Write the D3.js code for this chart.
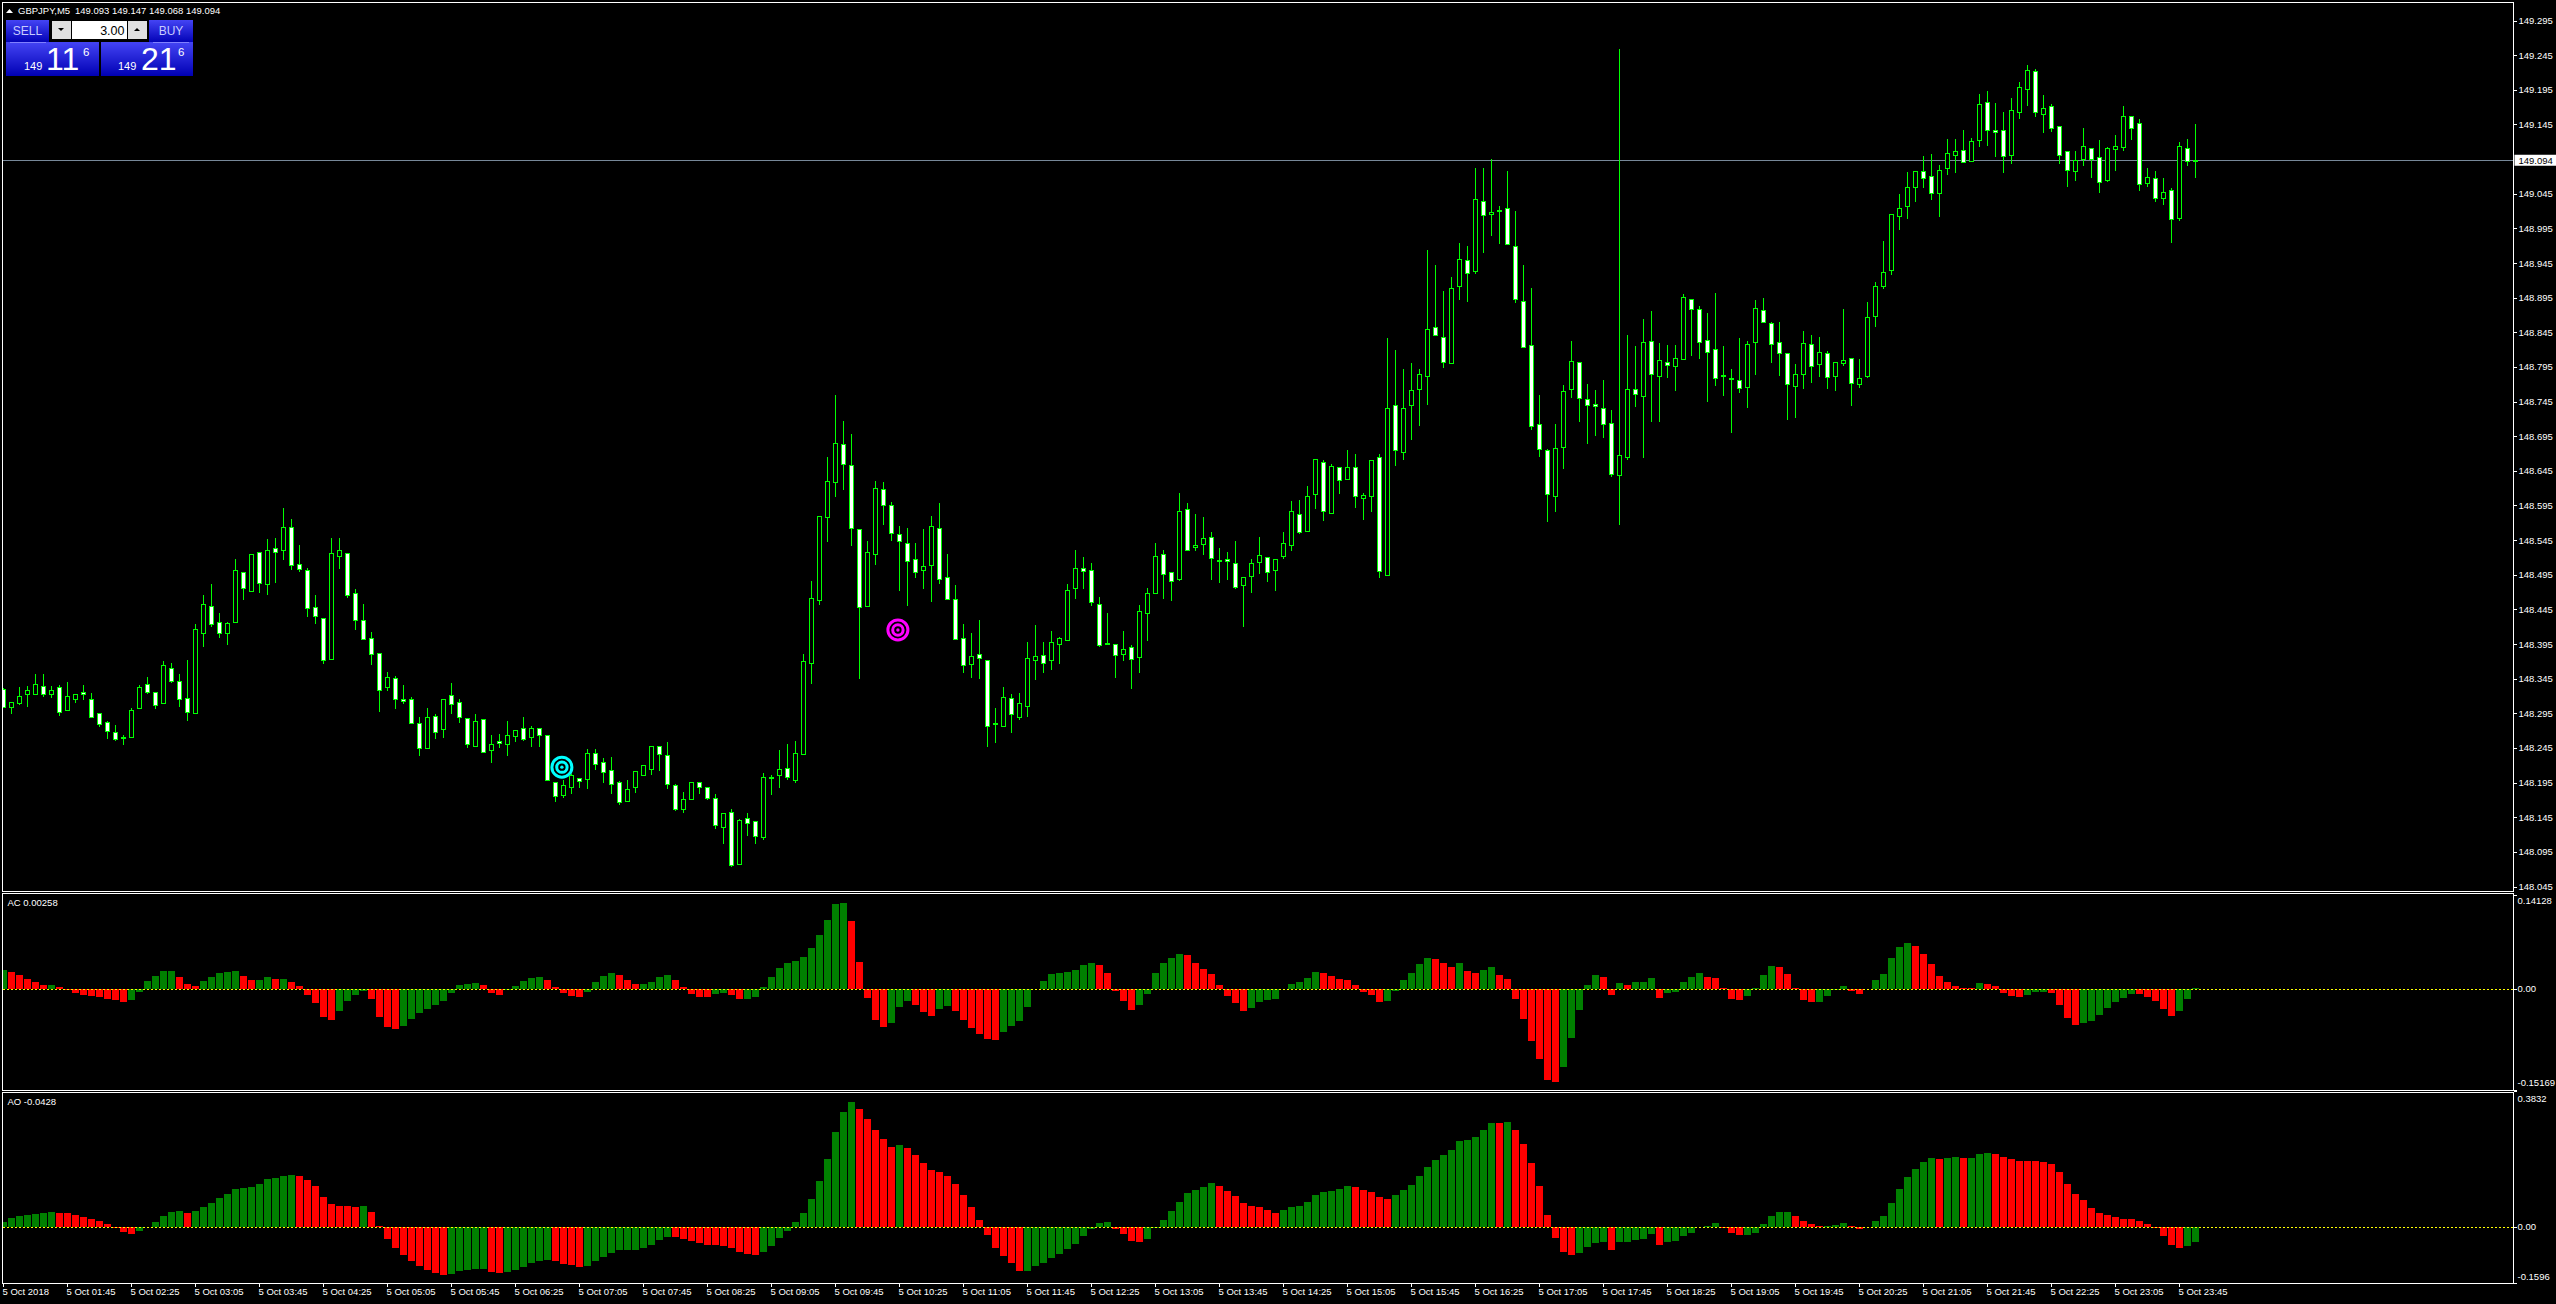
<!DOCTYPE html>
<html>
<head>
<meta charset="utf-8">
<script src="https://cdn.jsdelivr.net/npm/d3@7"></script>
<style>
  html, body { margin: 0; padding: 0; background: #000; overflow: hidden; }
  svg { display: block; font-family: "Liberation Sans", sans-serif; }
  text { fill: #fff; font-size: 9.5px; }
  .tick line { stroke: #fff; shape-rendering: crispEdges; }
</style>
</head>
<body>
<div id="graphicContainer"></div>
<script>

const openPrices = [
148.330,148.304,148.310,148.323,148.323,148.335,148.323,148.333,148.300,148.315,
148.326,148.316,148.296,148.283,148.268,148.261,148.261,148.302,148.338,148.326,
148.310,148.361,148.342,148.317,148.295,148.411,148.450,148.427,148.411,148.427,
148.499,148.471,148.528,148.481,148.534,148.530,148.564,148.511,148.502,148.449,
148.433,148.373,148.522,148.527,148.469,148.430,148.404,148.382,148.333,148.346,
148.315,148.316,148.281,148.245,148.291,148.272,148.322,148.312,148.288,148.248,
148.287,148.242,148.255,148.250,148.262,148.274,148.261,148.274,148.263,148.196,
148.177,148.188,148.202,148.200,148.238,148.224,148.213,148.196,148.168,148.188,
148.206,148.215,148.248,148.235,148.192,148.157,148.171,148.196,148.189,148.173,
148.131,148.153,148.077,148.144,148.140,148.116,148.203,148.206,148.216,148.199,
148.236,148.367,148.458,148.578,148.629,148.684,148.654,148.561,148.450,148.525,
148.619,148.596,148.554,148.541,148.517,148.502,148.509,148.563,148.492,148.460,
148.403,148.366,148.381,148.372,148.281,148.277,148.317,148.290,148.306,148.372,
148.379,148.372,148.395,148.401,148.476,148.505,148.502,148.453,148.397,148.395,
148.380,148.391,148.376,148.440,148.468,148.525,148.499,148.489,148.590,148.535,
148.539,148.550,148.516,148.518,148.512,148.480,148.493,148.513,148.521,148.502,
148.522,148.538,148.583,148.558,148.611,148.658,148.584,148.651,148.633,148.651,
148.606,148.608,148.665,148.494,148.740,148.672,148.740,148.763,148.782,148.853,
148.838,148.801,148.912,148.950,148.933,149.035,149.015,149.022,149.025,148.970,
148.890,148.826,148.713,148.675,148.608,148.679,148.763,148.802,148.748,148.741,
148.736,148.714,148.639,148.665,148.763,148.753,148.833,148.782,148.802,148.796,
148.806,148.893,148.879,148.834,148.821,148.784,148.779,148.776,148.766,148.831,
148.877,148.859,148.831,148.815,148.767,148.785,148.828,148.799,148.815,148.782,
148.801,148.808,148.770,148.782,148.868,148.912,148.935,149.013,149.027,149.054,
149.078,149.071,149.046,149.082,149.101,149.108,149.092,149.123,149.178,149.137,
149.137,149.101,149.163,149.196,149.222,149.160,149.172,149.142,149.106,149.078,
149.095,149.111,149.098,149.065,149.110,149.113,149.157,149.147,149.060,149.068,
149.039,149.051,149.010,149.111,149.093]

const closePrices = [
148.304,148.312,148.320,148.328,148.338,148.323,148.329,148.297,148.320,148.323,
148.323,148.289,148.279,148.269,148.258,148.260,148.300,148.333,148.326,148.307,
148.365,148.341,148.315,148.297,148.417,148.453,148.424,148.411,148.426,148.502,
148.476,148.525,148.483,148.531,148.528,148.564,148.509,148.504,148.447,148.435,
148.372,148.527,148.531,148.466,148.429,148.402,148.380,148.328,148.348,148.315,
148.313,148.281,148.245,148.290,148.268,148.316,148.308,148.289,148.250,148.284,
148.239,148.251,148.252,148.264,148.271,148.258,148.274,148.264,148.199,148.175,
148.192,148.206,148.197,148.237,148.222,148.210,148.193,148.167,148.186,148.212,
148.221,148.248,148.236,148.193,148.157,148.172,148.196,148.188,148.173,148.134,
148.151,148.076,148.141,148.136,148.118,148.203,148.201,148.215,148.203,148.237,
148.371,148.462,148.580,148.631,148.685,148.655,148.562,148.448,148.528,148.620,
148.595,148.555,148.544,148.515,148.499,148.508,148.566,148.489,148.460,148.402,
148.365,148.378,148.375,148.277,148.279,148.319,148.294,148.310,148.375,148.377,
148.367,148.398,148.404,148.473,148.505,148.500,148.456,148.393,148.395,148.379,
148.388,148.373,148.443,148.469,148.522,148.496,148.486,148.587,148.530,148.538,
148.548,148.519,148.515,148.515,148.477,148.492,148.512,148.524,148.499,148.518,
148.541,148.587,148.557,148.609,148.662,148.587,148.652,148.632,148.651,148.608,
148.610,148.661,148.500,148.736,148.675,148.736,148.762,148.785,148.850,148.841,
148.802,148.909,148.951,148.930,149.038,149.014,149.019,149.020,148.972,148.893,
148.824,148.710,148.677,148.611,148.678,148.760,148.804,148.750,148.740,148.739,
148.713,148.640,148.668,148.763,148.756,148.831,148.785,148.805,148.798,148.808,
148.896,148.878,148.831,148.816,148.779,148.782,148.777,148.765,148.828,148.880,
148.860,148.828,148.815,148.770,148.785,148.830,148.796,148.817,148.780,148.802,
148.805,148.772,148.779,148.867,148.912,148.932,149.016,149.025,149.055,149.078,
149.067,149.046,149.079,149.104,149.107,149.091,149.121,149.175,149.137,149.134,
149.099,149.166,149.199,149.224,149.163,149.169,149.140,149.101,149.079,149.093,
149.114,149.095,149.062,149.111,149.114,149.157,149.140,149.059,149.069,149.039,
149.048,149.008,149.114,149.092,149.094]

const highPrices = [
148.332,148.312,148.334,148.335,148.352,148.352,148.335,148.336,148.341,148.323,
148.336,148.325,148.296,148.284,148.279,148.264,148.303,148.336,148.348,148.326,
148.371,148.368,148.352,148.373,148.424,148.466,148.482,148.440,148.427,148.518,
148.499,148.525,148.528,148.547,148.549,148.592,148.576,148.538,148.505,148.466,
148.433,148.549,148.549,148.527,148.475,148.454,148.413,148.382,148.356,148.349,
148.336,148.319,148.290,148.303,148.294,148.316,148.340,148.317,148.288,148.294,
148.287,148.264,148.266,148.284,148.271,148.290,148.277,148.274,148.263,148.196,
148.199,148.217,148.202,148.244,148.244,148.231,148.233,148.198,148.200,148.213,
148.221,148.248,148.248,148.254,148.193,148.182,148.196,148.196,148.189,148.179,
148.151,148.158,148.143,148.152,148.140,148.209,148.206,148.243,148.252,148.256,
148.381,148.487,148.580,148.665,148.755,148.718,148.699,148.561,148.544,148.631,
148.629,148.601,148.566,148.563,148.542,148.562,148.581,148.599,148.526,148.481,
148.425,148.412,148.430,148.372,148.303,148.334,148.324,148.325,148.399,148.423,
148.399,148.414,148.406,148.482,148.531,148.522,148.513,148.463,148.440,148.395,
148.414,148.395,148.452,148.476,148.541,148.531,148.499,148.614,148.599,148.583,
148.579,148.557,148.534,148.529,148.544,148.492,148.518,148.550,148.521,148.518,
148.557,148.602,148.604,148.624,148.662,148.662,148.656,148.651,148.676,148.670,
148.614,148.661,148.670,148.837,148.820,148.793,148.801,148.793,148.965,148.943,
148.905,148.926,148.975,148.970,149.083,149.083,149.096,149.028,149.078,149.021,
148.943,148.910,148.755,148.677,148.714,148.769,148.833,148.802,148.771,148.763,
148.777,148.734,149.255,148.842,148.826,148.865,148.877,148.830,148.828,148.828,
148.901,148.893,148.884,148.874,148.903,148.826,148.793,148.837,148.833,148.892,
148.895,148.860,148.861,148.815,148.800,148.848,148.842,148.839,148.819,148.802,
148.879,148.808,148.807,148.890,148.918,148.978,149.016,149.045,149.077,149.078,
149.100,149.103,149.087,149.125,149.125,149.138,149.126,149.190,149.194,149.177,
149.163,149.184,149.207,149.232,149.225,149.188,149.175,149.142,149.106,149.108,
149.140,149.111,149.123,149.113,149.130,149.173,149.157,149.153,149.083,149.078,
149.069,149.054,149.121,149.124,149.147]

const lowPrices = [
148.303,148.295,148.308,148.305,148.323,148.319,148.318,148.292,148.299,148.311,
148.315,148.289,148.276,148.259,148.256,148.250,148.261,148.302,148.324,148.302,
148.310,148.340,148.305,148.285,148.295,148.391,148.420,148.404,148.394,148.427,
148.459,148.471,148.469,148.466,148.484,148.517,148.502,148.500,148.435,148.425,
148.367,148.373,148.504,148.462,148.416,148.402,148.365,148.298,148.328,148.302,
148.309,148.281,148.234,148.245,148.259,148.260,148.295,148.281,148.245,148.248,
148.239,148.224,148.246,148.234,148.254,148.256,148.247,148.247,148.199,148.168,
148.174,148.179,148.188,148.187,148.214,148.195,148.179,148.163,148.168,148.181,
148.206,148.207,148.212,148.187,148.155,148.152,148.171,148.179,148.171,148.129,
148.107,148.074,148.077,148.119,148.107,148.113,148.178,148.188,148.200,148.195,
148.235,148.338,148.452,148.543,148.608,148.618,148.537,148.345,148.450,148.510,
148.568,148.544,148.472,148.451,148.491,148.475,148.456,148.482,148.460,148.402,
148.354,148.347,148.345,148.247,148.253,148.277,148.267,148.286,148.291,148.344,
148.354,148.358,148.367,148.401,148.461,148.475,148.451,148.392,148.395,148.347,
148.371,148.331,148.354,148.400,148.468,148.461,148.458,148.486,148.530,148.530,
148.524,148.488,148.484,148.488,148.475,148.420,148.469,148.497,148.485,148.472,
148.518,148.530,148.554,148.558,148.591,148.573,148.584,148.612,148.633,148.592,
148.575,148.586,148.491,148.494,148.652,148.661,148.690,148.710,148.741,148.840,
148.794,148.801,148.892,148.889,148.930,148.960,148.985,148.973,148.972,148.888,
148.824,148.704,148.666,148.572,148.586,148.648,148.751,148.716,148.685,148.696,
148.693,148.637,148.568,148.661,148.738,148.664,148.716,148.716,148.780,148.761,
148.806,148.811,148.807,148.745,148.768,148.754,148.700,148.758,148.737,148.784,
148.860,148.801,148.783,148.719,148.722,148.764,148.773,148.781,148.764,148.761,
148.797,148.739,148.765,148.780,148.853,148.908,148.928,148.993,149.009,149.034,
149.054,149.037,149.012,149.073,149.076,149.091,149.092,149.113,149.114,149.099,
149.076,149.088,149.154,149.172,149.157,149.134,149.135,149.089,149.056,149.064,
149.085,149.069,149.047,149.063,149.079,149.108,149.123,149.049,149.056,149.034,
149.029,148.974,149.007,149.085,149.068]

const acValues = [
.029,.026,.0215,.0155,.011,.0065,.0065,.0035,-.0005,-.005,
-.0085,-.01,-.0115,-.0145,-.016,-.019,-.016,-.004,.0125,.02,
.0275,.0275,.0185,.008,.005,.0125,.0185,.0245,.026,.0275,
.02,.014,.014,.0185,.0155,.0155,.011,.005,-.0085,-.0205,
-.0415,-.046,-.0325,-.0175,-.0085,-.0025,-.0145,-.0415,-.0565,-.0595,
-.055,-.0445,-.0355,-.0295,-.0235,-.0175,-.0055,.0065,.008,.0095,
.0065,-.005,-.0085,-.0015,.005,.0125,.017,.0185,.014,.0035,
-.005,-.01,-.0115,-.004,.011,.02,.0245,.0215,.014,.008,
.008,.011,.0185,.0215,.014,.0035,-.007,-.0115,-.0115,-.007,
-.0055,-.0085,-.0145,-.0145,-.0115,.0035,.0185,.032,.0395,.0425,
.0485,.062,.0815,.104,.128,.1295,.1025,.041,-.013,-.046,
-.0565,-.0505,-.0265,-.0175,-.0235,-.034,-.04,-.0295,-.025,-.0325,
-.046,-.058,-.067,-.0745,-.076,-.064,-.055,-.0475,-.0265,.0005,
.0125,.023,.0245,.026,.029,.0365,.0395,.0365,.0245,-.0025,
-.0175,-.031,-.0235,-.007,.0245,.0395,.047,.053,.0515,.0395,
.0305,.023,.0065,-.01,-.0205,-.0325,-.028,-.019,-.016,-.0145,
.0005,.008,.011,.017,.026,.0245,.02,.0155,.014,.0065,
-.004,-.0085,-.019,-.0175,-.002,.014,.0245,.038,.047,.0455,
.0395,.0335,.0395,.0275,.0245,.029,.0335,.0215,.0155,-.0145,
-.0445,-.0775,-.1045,-.136,-.139,-.1165,-.073,-.031,.0065,.0215,
.0185,-.0085,.0095,.0065,.011,.011,.017,-.013,-.0055,-.004,
.011,.0185,.0245,.0185,.017,.0015,-.0145,-.016,-.01,.0015,
.0215,.035,.0335,.023,.0015,-.016,-.019,-.019,-.01,-.0015,
.005,-.0025,-.007,.0005,.014,.023,.047,.0635,.0695,.065,
.053,.038,.02,.011,.005,.002,.0015,.0095,.008,.005,
-.0055,-.01,-.0115,-.0085,-.004,-.004,-.0055,-.0235,-.043,-.0535,
-.0505,-.0475,-.0385,-.028,-.019,-.013,-.007,-.007,-.0115,-.0175,
-.0295,-.04,-.0325,-.0145,.00258]

const acRising = (
"GRRRRRGRRR"+"RRRRRRGGGG"+"GGRRRGGGGG"+"RRGGRGRRRR"+"RRGGGGRRRR"+"GGGGGGGGGG"+"RRRGGGGGRR"+
"RRRGGGGRRR"+"GGGGRRRRRG"+"GRRGGGGGGG"+"GGGGGGRRRR"+"RGGGRRRGGR"+"RRRRRGGGGG"+"GGGGGGGRRR"+
"RRGGGGGGRR"+"RRRRRRGGGG"+"GGGGGRRRRR"+"RRRGGGGGGR"+"RRGRRGGRRR"+"RRRRRGGGGG"+"RRGRGGGRGG"+
"GGGRRRRRGG"+"GGRRRRRGGG"+"GRRGGGGGGR"+"RRRRRRRGRR"+"RRRGGGRRRR"+"GGGGGGGRRR"+"RRGGG").split("")

const aoValues = [
.015,.026,.032,.035,.038,.040,.043,.040,.040,.035,
.029,.024,.018,.009,-.001,-.013,-.019,-.010,.002,.015,
.032,.043,.046,.040,.046,.057,.069,.083,.094,.108,
.111,.114,.122,.136,.139,.145,.148,.145,.133,.117,
.086,.066,.060,.060,.057,.060,.043,.003,-.033,-.058,
-.078,-.095,-.109,-.120,-.129,-.134,-.132,-.123,-.120,-.118,
-.118,-.126,-.129,-.126,-.120,-.112,-.101,-.095,-.092,-.095,
-.103,-.106,-.112,-.109,-.095,-.084,-.072,-.064,-.064,-.064,
-.058,-.050,-.036,-.027,-.027,-.033,-.039,-.044,-.050,-.050,
-.053,-.058,-.070,-.075,-.078,-.070,-.053,-.030,-.010,.015,
.040,.080,.131,.193,.269,.325,.353,.334,.306,.274,
.249,.227,.232,.224,.204,.181,.162,.156,.145,.122,
.091,.057,.021,-.022,-.058,-.081,-.101,-.123,-.123,-.109,
-.101,-.086,-.075,-.061,-.047,-.024,-.005,.012,.015,-.005,
-.019,-.039,-.041,-.033,-.003,.021,.046,.071,.097,.105,
.114,.125,.117,.102,.088,.069,.060,.057,.049,.040,
.049,.057,.060,.071,.091,.100,.102,.108,.117,.114,
.105,.100,.086,.080,.091,.105,.119,.145,.170,.190,
.204,.218,.243,.246,.255,.274,.294,.294,.297,.274,
.235,.181,.117,.035,-.030,-.070,-.078,-.072,-.055,-.044,
-.041,-.064,-.041,-.041,-.036,-.033,-.019,-.050,-.041,-.039,
-.024,-.016,.001,.003,.012,-.002,-.016,-.022,-.022,-.016,
.009,.032,.043,.043,.032,.018,.009,.003,.003,.007,
.012,.003,-.004,.002,.018,.032,.069,.108,.142,.165,
.184,.196,.193,.196,.198,.196,.196,.207,.210,.207,
.198,.193,.187,.187,.187,.184,.179,.156,.122,.094,
.077,.055,.040,.035,.029,.024,.024,.018,.009,-.003,
-.024,-.050,-.058,-.053,-.0428]

const aoRising = (
"GGGGGGGRRR"+"RRRRRRRGGG"+"GGGRGGGGGG"+"GGGGGGGRRR"+"RRRRRGRRRR"+"RRRRRRGGGG"+"GRRGGGGGGR"+
"RRRGGGGGGG"+"GGGGRRRRRR"+"RRRRRGGGGG"+"GGGGGGGRRR"+"RRGRRRRRRR"+"RRRRRRRRGG"+"GGGGGGGGGR"+
"RRRGGGGGGG"+"GGRRRRRRRR"+"GGGGGGGGGR"+"RRRRGGGGGG"+"GGGGGGGRGR"+"RRRRRRRGGG"+"GRGGGGGRGG"+
"GGGGGRRRGG"+"GGGGRRRRGG"+"GRRGGGGGGG"+"GGRGGRGGGR"+"RRRRRRRRRR"+"RRRRRRRRRR"+"RRRGG").split("")

const priceTicks = [149.295,149.245,149.195,149.145,149.045,148.995,148.945,148.895,148.845,148.795,148.745,
  148.695,148.645,148.595,148.545,148.495,148.445,148.395,148.345,148.295,148.245,148.195,148.145,148.095,148.045]
const lastPrice = 149.094

const acTicks = [0.14128, 0, -0.15169]
const acTickLabels = ["0.14128", "0.00", "-0.15169"]
const aoTicks = [0.3832, 0, -0.1596]
const aoTickLabels = ["0.3832", "0.00", "-0.1596"]

const timeTicks = d3.range(0, 275, 8)
const timeLabels = ["5 Oct 2018","5 Oct 01:45","5 Oct 02:25","5 Oct 03:05","5 Oct 03:45","5 Oct 04:25","5 Oct 05:05",
  "5 Oct 05:45","5 Oct 06:25","5 Oct 07:05","5 Oct 07:45","5 Oct 08:25","5 Oct 09:05","5 Oct 09:45","5 Oct 10:25",
  "5 Oct 11:05","5 Oct 11:45","5 Oct 12:25","5 Oct 13:05","5 Oct 13:45","5 Oct 14:25","5 Oct 15:05","5 Oct 15:45",
  "5 Oct 16:25","5 Oct 17:05","5 Oct 17:45","5 Oct 18:25","5 Oct 19:05","5 Oct 19:45","5 Oct 20:25","5 Oct 21:05",
  "5 Oct 21:45","5 Oct 22:25","5 Oct 23:05","5 Oct 23:45"]

const markerBars = [69.8, 111.8]
const markerPrices = [148.218, 148.416]
const markerColors = ["#00ffff", "#ff00ff"]

const width = 2556
const height = 1304
const frameLeft = 2.5
const frameRight = 2513.5

const windows = [
  { top: 2.5, bottom: 891.5 },
  { top: 893.5, bottom: 1090.5 },
  { top: 1092.5, bottom: 1283.5 }
]

const barCount = openPrices.length

const x = d3.scaleLinear().domain([0, barCount - 1]).range([3.5, 3.5 + 8 * (barCount - 1)])
const y = d3.scaleLinear().domain([148.045, 149.295]).range([887, 21])
const yAc = d3.scaleLinear().domain([-0.15169, 0.14128]).range([1090.4, 895.1])
const yAo = d3.scaleLinear().domain([-0.1596, 0.3832]).range([1283.9, 1091.4])

const svg = d3.select("#graphicContainer").append("svg")
  .attr("width", width)
  .attr("height", height)

const defs = svg.append("defs")

windows.forEach((w, i) => {
  defs.append("clipPath").attr("id", `clip${i}`)
    .append("rect")
    .attr("x", frameLeft)
    .attr("y", w.top)
    .attr("width", frameRight - frameLeft)
    .attr("height", w.bottom - w.top)
})

const gradient = defs.append("linearGradient")
  .attr("id", "buttonBlue")
  .attr("x1", 0).attr("x2", 0).attr("y1", 0).attr("y2", 1)
gradient.append("stop").attr("offset", "0%").attr("stop-color", "#4444f4")
gradient.append("stop").attr("offset", "100%").attr("stop-color", "#0000b4")

svg.append("rect").attr("width", width).attr("height", height).attr("fill", "#000")

// current price line sits behind the candles
svg.append("line")
  .attr("x1", frameLeft).attr("x2", frameRight)
  .attr("y1", Math.floor(y(lastPrice)) + 0.5).attr("y2", Math.floor(y(lastPrice)) + 0.5)
  .attr("stroke", "#778899")

// candles
const candles = svg.append("g")
  .attr("clip-path", "url(#clip0)")
  .attr("shape-rendering", "crispEdges")

const bars = d3.range(barCount)

candles.selectAll(".wick")
  .data(bars)
  .enter()
  .append("line")
  .attr("class", "wick")
  .attr("x1", d => x(d))
  .attr("x2", d => x(d))
  .attr("y1", d => y(highPrices[d]))
  .attr("y2", d => y(lowPrices[d]))
  .attr("stroke", "#00ff00")

candles.selectAll(".body")
  .data(bars)
  .enter()
  .append("rect")
  .attr("class", "body")
  .attr("x", d => x(d) - 2)
  .attr("width", 4)
  .attr("y", d => y(Math.max(openPrices[d], closePrices[d])))
  .attr("height", d => Math.max(1, Math.abs(y(openPrices[d]) - y(closePrices[d]))))
  .attr("fill", d => closePrices[d] >= openPrices[d] ? "#000" : "#fff")
  .attr("stroke", "#00ff00")

// target markers
markerBars.forEach((bar, i) => {

  const marker = svg.append("g")
    .attr("transform", `translate(${x(bar)},${y(markerPrices[i])})`)

  marker.append("circle").attr("r", 11.5).attr("fill", "#000")
  marker.append("circle").attr("r", 10).attr("fill", "none").attr("stroke", markerColors[i]).attr("stroke-width", 3)
  marker.append("circle").attr("r", 5.2).attr("fill", "none").attr("stroke", markerColors[i]).attr("stroke-width", 3)
  marker.append("circle").attr("r", 1.7).attr("fill", markerColors[i])

})

// AC and AO histograms
const drawHistogram = (values, rising, scale, clip) => {

  const group = svg.append("g")
    .attr("clip-path", `url(#${clip})`)
    .attr("shape-rendering", "crispEdges")

  group.selectAll("rect")
    .data(values)
    .enter()
    .append("rect")
    .attr("x", (d, i) => x(i) - 3.5)
    .attr("width", 7)
    .attr("y", d => Math.min(scale(d), scale(0)))
    .attr("height", d => Math.abs(scale(d) - scale(0)))
    .attr("fill", (d, i) => rising[i] === "G" ? "#008000" : "#ff0000")

  group.append("line")
    .attr("x1", frameLeft).attr("x2", frameRight)
    .attr("y1", Math.floor(scale(0)) + 0.5).attr("y2", Math.floor(scale(0)) + 0.5)
    .attr("stroke", "#ffff00")
    .attr("stroke-dasharray", "2,2")

}

drawHistogram(acValues, acRising, yAc, "clip1")
drawHistogram(aoValues, aoRising, yAo, "clip2")

// window frames
svg.append("g")
  .selectAll("rect")
  .data(windows)
  .enter()
  .append("rect")
  .attr("x", frameLeft)
  .attr("y", d => d.top)
  .attr("width", frameRight - frameLeft)
  .attr("height", d => d.bottom - d.top)
  .attr("fill", "none")
  .attr("stroke", "#fff")
  .attr("shape-rendering", "crispEdges")

// axes
const styleAxis = (g) => {
  g.select(".domain").remove()
  g.attr("font-family", null).attr("font-size", null)
}

svg.append("g")
  .attr("transform", `translate(${frameRight},0)`)
  .call(d3.axisRight(y).tickValues(priceTicks).tickSize(3).tickPadding(2).offset(0).tickFormat(d3.format(".3f")))
  .call(styleAxis)

const indicatorAxis = (scale, ticks, labels, nudges) => {

  svg.append("g")
    .attr("transform", `translate(${frameRight},0)`)
    .call(d3.axisRight(scale).tickValues(ticks).tickSize(3).tickPadding(1).offset(0).tickFormat((d, i) => labels[i]))
    .call(styleAxis)
    .selectAll("text")
    .attr("y", (d, i) => nudges[i])

}

indicatorAxis(yAc, acTicks, acTickLabels, [5.6, 0, -7.7])
indicatorAxis(yAo, aoTicks, aoTickLabels, [7.9, 0, -7.2])

const timeAxis = svg.append("g")
  .attr("transform", `translate(0,${windows[2].bottom})`)
  .call(d3.axisBottom(x).tickValues(timeTicks).tickSize(3).tickPadding(2).offset(0).tickFormat((d, i) => timeLabels[i]))
  .call(styleAxis)

timeAxis.selectAll("text").attr("text-anchor", "start").attr("x", -1)

// last price box
const priceBox = svg.append("g")
  .attr("transform", `translate(${frameRight},${y(lastPrice)})`)

priceBox.append("rect")
  .attr("x", 1)
  .attr("y", -5.5)
  .attr("width", 42)
  .attr("height", 11)
  .attr("fill", "#fff")

priceBox.append("text")
  .attr("x", 5)
  .attr("y", 3.6)
  .style("fill", "#000")
  .text(lastPrice.toFixed(3))

// header
svg.append("path").attr("d", "M6,13 L13,13 L9.5,9 Z").attr("fill", "#fff")

svg.append("text").attr("x", 18).attr("y", 14).text("GBPJPY,M5")
svg.append("text").attr("x", 75).attr("y", 14).text("149.093 149.147 149.068 149.094")

svg.append("text").attr("x", 7.5).attr("y", 905.5).text("AC 0.00258")
svg.append("text").attr("x", 7.5).attr("y", 1105).text("AO -0.0428")

// one click trading panel
const panel = svg.append("g")

const panelRects = [[6, 20, 43, 23], [149, 20, 44, 23], [6, 42, 93, 34], [101, 42, 92, 34]]

panel.selectAll(".button")
  .data(panelRects)
  .enter()
  .append("rect")
  .attr("class", "button")
  .attr("x", d => d[0])
  .attr("y", d => d[1])
  .attr("width", d => d[2])
  .attr("height", d => d[3])
  .attr("fill", "url(#buttonBlue)")

panel.selectAll(".rule")
  .data([[10, 46], [153, 189]])
  .enter()
  .append("line")
  .attr("class", "rule")
  .attr("x1", d => d[0])
  .attr("x2", d => d[1])
  .attr("y1", 42.5)
  .attr("y2", 42.5)
  .attr("stroke", "#8080ff")

panel.append("rect").attr("x", 52).attr("y", 21).attr("width", 19).attr("height", 18).attr("fill", "#e0e0e0")
panel.append("rect").attr("x", 72).attr("y", 21).attr("width", 55).attr("height", 18).attr("fill", "#fff")
panel.append("rect").attr("x", 128).attr("y", 21).attr("width", 19).attr("height", 18).attr("fill", "#e0e0e0")
panel.append("path").attr("d", "M58,28 L64,28 L61,31 Z").attr("fill", "#000")
panel.append("path").attr("d", "M134,31 L140,31 L137,28 Z").attr("fill", "#000")

const panelText = (px, py, size, label, color, anchor) => {
  panel.append("text")
    .attr("x", px)
    .attr("y", py)
    .attr("text-anchor", anchor || "start")
    .style("font-size", `${size}px`)
    .style("fill", color || "#fff")
    .text(label)
}

panelText(27.5, 35, 12, "SELL", "#c8ccff", "middle")
panelText(171, 35, 12, "BUY", "#c8ccff", "middle")
panelText(124.5, 34.5, 12.5, "3.00", "#000", "end")
panelText(24, 70, 11, "149")
panelText(118, 70, 11, "149")
panelText(46, 70, 32, "11")
panelText(141, 70, 32, "21")
panelText(83, 56, 11.5, "6")
panelText(178, 56, 11.5, "6")

</script>
</body>
</html>
